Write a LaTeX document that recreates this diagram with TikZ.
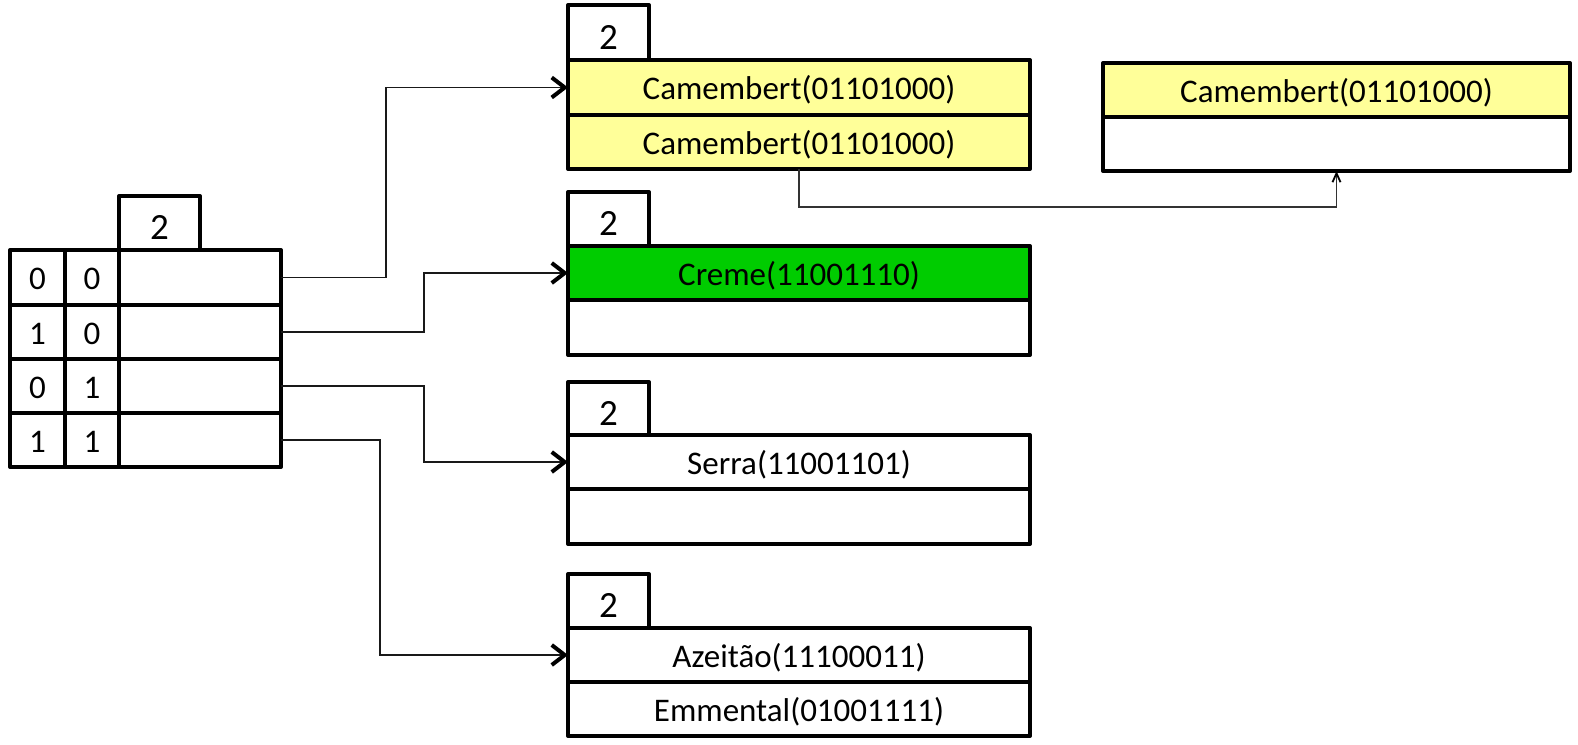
\documentclass[tikz,border=0pt]{standalone}
\usepackage{fontspec}
\setmainfont{Carlito}
\usetikzlibrary{arrows.meta}
\definecolor{camyellow}{HTML}{FFFF99}
\definecolor{cremegreen}{HTML}{00CC00}
\tikzset{
  cell/.style={draw=black, line width=4pt, fill=white, anchor=north west, inner sep=0pt, outer sep=0pt,
    font=\fontsize{33}{40}\selectfont, line join=round, text height=30pt, text depth=6pt},
  tabcell/.style={cell, font=\fontsize{37}{44}\selectfont, text height=35pt, text depth=2pt},
  conn/.style={draw=black!90, line width=1.3pt, -{Straight Barb[length=13pt,width=20pt,line width=4pt,color=black]}},
  thinconn/.style={draw=black!80, line width=1.3pt, -{Straight Barb[length=9pt,width=8pt,line width=1.8pt,color=black]}}
}
\begin{document}
\begin{tikzpicture}[x=1pt,y=-1pt]
\useasboundingbox (0,0) rectangle (1578,744);
% left directory table
\node[tabcell, minimum width=81pt, minimum height=54pt] (ttab) at (119,196) {2};
\node[cell, minimum width=55pt, minimum height=55pt] (a0) at (10,250) {0};
\node[cell, minimum width=54pt, minimum height=55pt] (b0) at (65,250) {0};
\node[cell, minimum width=162pt, minimum height=55pt] (t0) at (119,250) {};
\node[cell, minimum width=55pt, minimum height=54pt] (a1) at (10,305) {1};
\node[cell, minimum width=54pt, minimum height=54pt] (b1) at (65,305) {0};
\node[cell, minimum width=162pt, minimum height=54pt] (t1) at (119,305) {};
\node[cell, minimum width=55pt, minimum height=54pt] (a2) at (10,359) {0};
\node[cell, minimum width=54pt, minimum height=54pt] (b2) at (65,359) {1};
\node[cell, minimum width=162pt, minimum height=54pt] (t2) at (119,359) {};
\node[cell, minimum width=55pt, minimum height=54pt] (a3) at (10,413) {1};
\node[cell, minimum width=54pt, minimum height=54pt] (b3) at (65,413) {1};
\node[cell, minimum width=162pt, minimum height=54pt] (t3) at (119,413) {};
% bucket 1
\node[tabcell, minimum width=81pt, minimum height=55pt] (k1tab) at (568,5) {2};
\node[cell, fill=camyellow, minimum width=462pt, minimum height=55pt] (k1r1) at (568,60) {Camembert(01101000)};
\node[cell, fill=camyellow, minimum width=462pt, minimum height=54pt] (k1r2) at (568,115) {Camembert(01101000)};
% bucket 2
\node[tabcell, minimum width=81pt, minimum height=54pt] (k2tab) at (568,192) {2};
\node[cell, fill=cremegreen, minimum width=462pt, minimum height=54pt] (k2r1) at (568,246) {Creme(11001110)};
\node[cell, minimum width=462pt, minimum height=55pt] (k2r2) at (568,300) {};
% bucket 3
\node[tabcell, minimum width=81pt, minimum height=53pt] (k3tab) at (568,382) {2};
\node[cell, minimum width=462pt, minimum height=54pt] (k3r1) at (568,435) {Serra(11001101)};
\node[cell, minimum width=462pt, minimum height=55pt] (k3r2) at (568,489) {};
% bucket 4
\node[tabcell, minimum width=81pt, minimum height=54pt] (k4tab) at (568,574) {2};
\node[cell, minimum width=462pt, minimum height=54pt] (k4r1) at (568,628) {Azeitão(11100011)};
\node[cell, minimum width=462pt, minimum height=54pt] (k4r2) at (568,682) {Emmental(01001111)};
% overflow box
\node[cell, fill=camyellow, minimum width=467pt, minimum height=54pt] (ov1) at (1103,63) {Camembert(01101000)};
\node[cell, minimum width=467pt, minimum height=54pt] (ov2) at (1103,117) {};
% connectors
\draw[conn] (t0.east) -- ++(105,0) |- (k1r1.west);
\draw[conn] (t1.east) -- ++(143,0) |- (k2r1.west);
\draw[conn] (t2.east) -- ++(143,0) |- (k3r1.west);
\draw[conn] (t3.east) -- ++(99,0) |- (k4r1.west);
\draw[thinconn] (k1r2.south) -- ++(0,38) -| (ov2.south);
\end{tikzpicture}
\end{document}
